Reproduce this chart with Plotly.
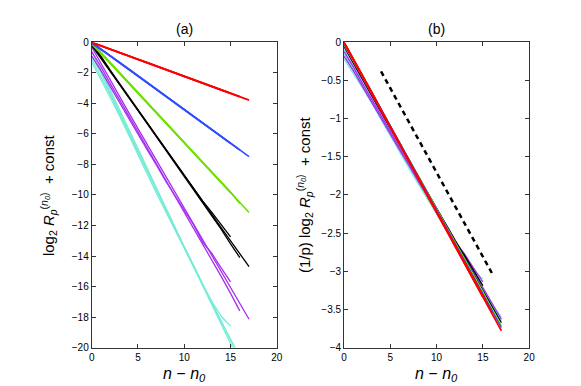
import plotly.graph_objects as go

# ---- data (panel a: log2 R_p^(n0) + const) ----
steps = list(range(0, 18))  # n - n0

red_runs = [
    [0, -0.22, -0.44, -0.66, -0.89, -1.11, -1.33, -1.55, -1.78, -2.00, -2.22, -2.44, -2.67, -2.89, -3.11, -3.33, -3.56, -3.78],
    [0, -0.21, -0.43, -0.65, -0.88, -1.10, -1.32, -1.54, -1.77, -1.99, -2.21, -2.43, -2.66, -2.88, -3.10, -3.32, -3.55],
    [0, -0.22, -0.45, -0.67, -0.89, -1.11, -1.34, -1.56, -1.78, -2.01, -2.23, -2.45, -2.68, -2.90, -3.12, -3.34],
]
blue_runs = [
    [0, -0.42, -0.86, -1.30, -1.74, -2.18, -2.62, -3.06, -3.50, -3.94, -4.38, -4.82, -5.26, -5.70, -6.14, -6.58, -7.03, -7.48],
    [0, -0.44, -0.88, -1.32, -1.76, -2.20, -2.64, -3.08, -3.53, -3.97, -4.41, -4.85, -5.29, -5.73, -6.17, -6.61, -7.05],
    [-0.05, -0.45, -0.89, -1.33, -1.77, -2.21, -2.65, -3.10, -3.54, -3.98, -4.42, -4.86, -5.30, -5.74, -6.19, -6.62],
]
green_runs = [
    [0, -0.66, -1.32, -1.97, -2.63, -3.28, -3.94, -4.59, -5.25, -5.90, -6.56, -7.21, -7.87, -8.52, -9.18, -9.84, -10.49, -11.15],
    [-0.05, -0.70, -1.35, -2.00, -2.66, -3.31, -3.96, -4.62, -5.27, -5.92, -6.58, -7.23, -7.88, -8.54, -9.19, -9.80, -10.55],
    [-0.10, -0.72, -1.38, -2.03, -2.68, -3.33, -3.99, -4.64, -5.29, -5.95, -6.60, -7.25, -7.91, -8.56, -9.15, -9.85],
]
black_runs = [
    [0, -0.95, -1.82, -2.68, -3.55, -4.41, -5.27, -6.13, -6.99, -7.85, -8.71, -9.57, -10.43, -11.29, -12.15, -13.01, -13.86, -14.70],
    [-0.10, -1.00, -1.88, -2.74, -3.60, -4.46, -5.32, -6.18, -7.04, -7.90, -8.76, -9.62, -10.50, -11.35, -12.25, -13.20, -14.10],
    [-0.20, -1.05, -1.93, -2.80, -3.66, -4.52, -5.38, -6.22, -7.08, -7.92, -8.78, -9.55, -10.40, -11.15, -11.95, -12.75],
]
purple_runs = [
    [-0.30, -1.40, -2.50, -3.55, -4.60, -5.65, -6.70, -7.75, -8.80, -9.85, -10.90, -11.95, -13.00, -14.00, -15.05, -16.05, -17.10, -18.15],
    [-0.60, -1.60, -2.70, -3.75, -4.80, -5.85, -6.90, -7.95, -9.00, -10.00, -11.05, -12.10, -13.20, -14.30, -15.35, -16.45, -17.60],
    [-0.90, -1.85, -2.90, -3.95, -5.00, -6.00, -7.05, -8.05, -9.10, -10.05, -11.00, -11.95, -13.10, -13.85, -14.80, -15.70],
]
cyan_runs = [
    [-0.60, -1.80, -3.10, -4.40, -5.70, -7.00, -8.30, -9.60, -10.90, -12.20, -13.40, -14.60, -15.90, -17.10, -18.30, -19.50, -20.60, -21.60],
    [-0.90, -2.00, -3.30, -4.60, -5.80, -7.10, -8.40, -9.65, -10.90, -12.15, -13.40, -14.70, -15.90, -17.20, -18.45, -19.70, -21.00],
    [-1.10, -2.20, -3.40, -4.70, -5.95, -7.20, -8.45, -9.70, -10.95, -12.20, -13.45, -14.60, -15.90, -17.00, -17.95, -18.60],
    [-1.30, -2.40, -3.60, -4.80, -6.10, -7.40, -8.60, -9.90, -11.10, -12.30, -13.50, -14.80, -16.00, -17.20, -18.40, -19.60, -20.80, -21.90],
]

groups = [  # (p, colour, runs)
    (6, "#76ecd6", cyan_runs),
    (5, "#a62ff0", purple_runs),
    (4, "#000000", black_runs),
    (3, "#6ee000", green_runs),
    (2, "#2f4dff", blue_runs),
    (1, "#ff0000", red_runs),
]

ref_x = [4, 16]
ref_y = [-0.38, -3.03]

x_ticks = [0, 5, 10, 15, 20]
ya_ticks = [0, -2, -4, -6, -8, -10, -12, -14, -16, -18, -20]
yb_ticks = [0, -0.5, -1, -1.5, -2, -2.5, -3, -3.5, -4]

W, H = 581, 386
fig = go.Figure()

for p, col, runs in groups:
    for run in runs:
        xs = steps[:len(run)]
        w = 1.8 if p == 1 else (1.6 if p in (2, 3) else 1.3)
        fig.add_trace(go.Scatter(x=xs, y=run, mode="lines", line=dict(color=col, width=w),
                                 xaxis="x", yaxis="y", showlegend=False, hoverinfo="skip"))
for p, col, runs in groups:
    for run in runs:
        xs = steps[:len(run)]
        fig.add_trace(go.Scatter(x=xs, y=[v / p for v in run], mode="lines",
                                 line=dict(color=col, width=1.7 if p == 1 else 1.3),
                                 xaxis="x2", yaxis="y2", showlegend=False, hoverinfo="skip"))
fig.add_trace(go.Scatter(x=ref_x, y=ref_y, mode="lines",
                         line=dict(color="black", width=2.5, dash="5px,4px"),
                         xaxis="x2", yaxis="y2", showlegend=False, hoverinfo="skip"))

def px(xp):
    return xp / W

def py(yp):
    return 1 - yp / H

axis_common = dict(showline=True, linecolor="#333", linewidth=1, mirror="ticks", ticks="inside",
                   ticklen=4, tickcolor="#333", showgrid=False, zeroline=False,
                   tickfont=dict(family="Liberation Sans, Arial, sans-serif", size=10, color="black"))

fig.update_layout(
    width=W, height=H, margin=dict(l=0, r=0, t=0, b=0),
    paper_bgcolor="white", plot_bgcolor="white",
    xaxis=dict(domain=[px(82), px(270)], range=[0, 20], tickvals=x_ticks, anchor="y", **axis_common),
    yaxis=dict(domain=[py(343.3), py(29.3)], range=[-20, 0], tickvals=ya_ticks, anchor="x", **axis_common),
    xaxis2=dict(domain=[px(338.3), px(526.3)], range=[0, 20], tickvals=x_ticks, anchor="y2", **axis_common),
    yaxis2=dict(domain=[py(343.3), py(29.3)], range=[-4, 0], tickvals=yb_ticks, anchor="x2", **axis_common),
)

font = dict(family="Liberation Sans, Arial, sans-serif", color="black")
ann = [
    dict(text="(a)", x=px(176), y=py(15), size=14, angle=0),
    dict(text="(b)", x=px(432), y=py(15), size=14, angle=0),
    dict(text="<i>n</i> − <i>n<sub>0</sub></i>", x=px(176), y=py(371), size=16, angle=0),
    dict(text="<i>n</i> − <i>n<sub>0</sub></i>", x=px(432), y=py(371), size=16, angle=0),
    dict(text="log<sub>2</sub> <i>R</i><sub><i>p</i></sub><sup>(<i>n<sub>0</sub></i>)</sup>  + const",
         x=px(38), y=py(186), size=15, angle=-90),
    dict(text="(1/p) log<sub>2</sub> <i>R</i><sub><i>p</i></sub><sup>(<i>n<sub>0</sub></i>)</sup>  + const",
         x=px(298), y=py(186), size=15, angle=-90),
]
for a in ann:
    fig.add_annotation(text=a["text"], x=a["x"], y=a["y"], xref="paper", yref="paper",
                       showarrow=False, textangle=a["angle"], xanchor="center", yanchor="middle",
                       font=dict(size=a["size"], **font))

fig.write_html("out.html")
